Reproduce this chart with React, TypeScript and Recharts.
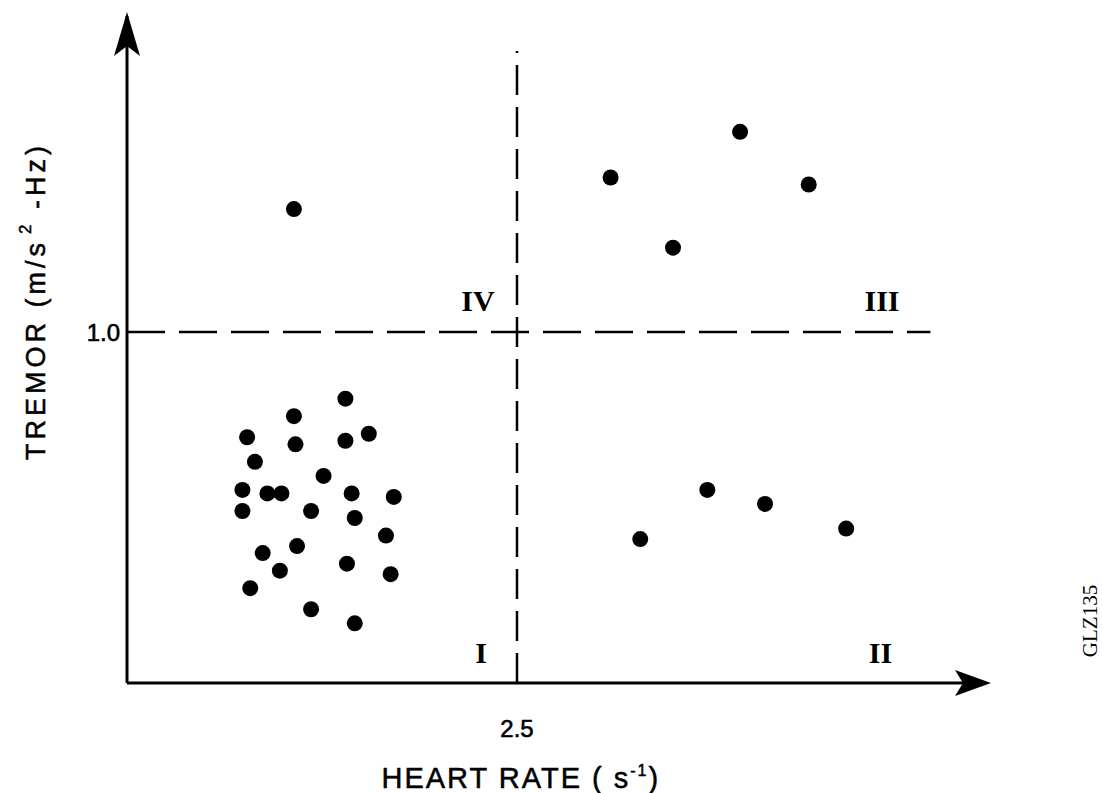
import { ScatterChart, Scatter, XAxis, YAxis, ReferenceLine, ReferenceDot, Label } from "recharts";

// quadrant I (low heart rate, low tremor) - the big cluster
const hrI = [1.40, 1.07, 0.77, 1.08, 1.40, 1.55, 0.82, 1.26, 0.74, 0.90, 0.99, 1.44, 1.71, 0.74, 1.18, 1.46, 1.66, 1.09, 0.87, 1.41, 0.98, 1.69, 0.79, 1.18, 1.46];
const tremorI = [0.81, 0.76, 0.70, 0.68, 0.69, 0.71, 0.63, 0.59, 0.55, 0.54, 0.54, 0.54, 0.53, 0.49, 0.49, 0.47, 0.42, 0.39, 0.37, 0.34, 0.32, 0.31, 0.27, 0.21, 0.17];

// quadrant II
const hrII = [3.72, 4.09, 3.29, 4.61];
const tremorII = [0.55, 0.51, 0.41, 0.44];

// quadrant III
const hrIII = [3.10, 3.93, 4.37, 3.50];
const tremorIII = [1.44, 1.57, 1.42, 1.24];

// quadrant IV
const hrIV = [1.07];
const tremorIV = [1.35];

const HR_THRESHOLD = 2.5;
const TREMOR_THRESHOLD = 1.0;
const X_MAX = 5.5;
const Y_MAX = 1.9;

const quadrantNames = ["IV", "III", "I", "II"];
const quadrantHR = [2.25, 4.84, 2.27, 4.83];
const quadrantTremor = [1.09, 1.09, 0.088, 0.088];

const toPoints = (hr: number[], tr: number[]) => hr.map((x, i) => ({ hr: x, tremor: tr[i] }));

const allPoints = [
  ...toPoints(hrI, tremorI),
  ...toPoints(hrII, tremorII),
  ...toPoints(hrIII, tremorIII),
  ...toPoints(hrIV, tremorIV),
];

const FONT = "'Liberation Sans', Arial, sans-serif";

const Dot = (p: any) => <circle cx={p.cx} cy={p.cy} r={8} fill="#000" />;

const XTick = ({ x, y, payload }: any) => (
  <text x={x} y={y} dy="0.71em" textAnchor="middle" fontFamily={FONT} fontSize={24} fill="#000" stroke="#000" strokeWidth={0.6}>
    {payload.value.toFixed(1)}
  </text>
);

const YTick = ({ x, y, payload }: any) => (
  <text x={x} y={y} dy="0.36em" textAnchor="end" fontFamily={FONT} fontSize={24} fill="#000" stroke="#000" strokeWidth={0.6}>
    {payload.value.toFixed(1)}
  </text>
);

const XTitle = ({ viewBox }: any) => {
  const cx = viewBox.x + viewBox.width * 0.459;
  const y = viewBox.y + 105;
  return (
    <text x={cx} y={y} textAnchor="middle" fontFamily={FONT} fontSize={29} fill="#000" stroke="#000" strokeWidth={0.5} letterSpacing={2}>
      HEART RATE ( s<tspan dy={-12} fontSize={16}>-1</tspan><tspan dy={12}>)</tspan>
    </text>
  );
};

const YTitle = ({ viewBox }: any) => {
  const cx = viewBox.x + 36;
  const cy = viewBox.y + 285;
  return (
    <text x={cx} y={cy} transform={`rotate(-90 ${cx} ${cy})`} textAnchor="middle" dominantBaseline="central"
      fontFamily={FONT} fontSize={27} fill="#000" stroke="#000" strokeWidth={0.5} letterSpacing={4}>
      TREMOR (m/s<tspan dy={-11} dx={5} fontSize={17}>2</tspan><tspan dy={11}> -Hz)</tspan>
    </text>
  );
};

const RightArrow = ({ cx, cy }: any) => (
  <polygon points={`${cx + 6},${cy} ${cx - 30},${cy - 13} ${cx - 22},${cy} ${cx - 30},${cy + 13}`} fill="#000" />
);

const UpArrow = ({ cx, cy }: any) => (
  <polygon points={`${cx},${cy - 4} ${cx - 13},${cy + 40} ${cx},${cy + 30} ${cx + 13},${cy + 40}`} fill="#000" />
);

const QuadrantText = (name: string) => ({ cx, cy }: any) => (
  <text x={cx} y={cy} textAnchor="middle" dominantBaseline="central" fontFamily="'Liberation Serif', serif"
    fontWeight="bold" fontSize={30} fill="#000">
    {name}
  </text>
);

export default function App() {
  return (
    <div style={{ position: "relative", width: 1102, height: 793, background: "#fff" }}>
      <style>{"body{margin:0}"}</style>
      <ScatterChart width={1102} height={793} margin={{ top: 16, right: 117, bottom: 0, left: 0 }}>
        <XAxis
          type="number"
          dataKey="hr"
          domain={[0, X_MAX]}
          ticks={[HR_THRESHOLD]}
          height={110}
          tickLine={false}
          tickMargin={31}
          axisLine={{ stroke: "#000", strokeWidth: 3 }}
          tick={<XTick />}
        >
          <Label content={<XTitle />} />
        </XAxis>
        <YAxis
          type="number"
          dataKey="tremor"
          domain={[0, Y_MAX]}
          ticks={[TREMOR_THRESHOLD]}
          width={127}
          tickLine={false}
          tickMargin={1}
          axisLine={{ stroke: "#000", strokeWidth: 3 }}
          tick={<YTick />}
        >
          <Label content={<YTitle />} />
        </YAxis>
        <ReferenceLine
          segment={[{ x: HR_THRESHOLD, y: 0 }, { x: HR_THRESHOLD, y: 1.8 }]}
          stroke="#000"
          strokeWidth={2.5}
          strokeDasharray="30 12"
        />
        <ReferenceLine
          segment={[{ x: 0, y: TREMOR_THRESHOLD }, { x: 5.15, y: TREMOR_THRESHOLD }]}
          stroke="#000"
          strokeWidth={2.5}
          strokeDasharray="38 14"
        />
        <ReferenceDot x={X_MAX} y={0} ifOverflow="visible" shape={<RightArrow />} />
        <ReferenceDot x={0} y={Y_MAX} ifOverflow="visible" shape={<UpArrow />} />
        {quadrantNames.map((n, i) => (
          <ReferenceDot key={n} x={quadrantHR[i]} y={quadrantTremor[i]} ifOverflow="visible" shape={QuadrantText(n)} />
        ))}
        <Scatter data={allPoints} shape={<Dot />} isAnimationActive={false} />
      </ScatterChart>
      <div
        style={{
          position: "absolute",
          left: 1090,
          top: 621,
          transform: "translate(-50%, -50%) rotate(-90deg)",
          fontFamily: "'Liberation Serif', serif",
          fontSize: 21,
          whiteSpace: "nowrap",
        }}
      >
        GLZ135
      </div>
    </div>
  );
}
